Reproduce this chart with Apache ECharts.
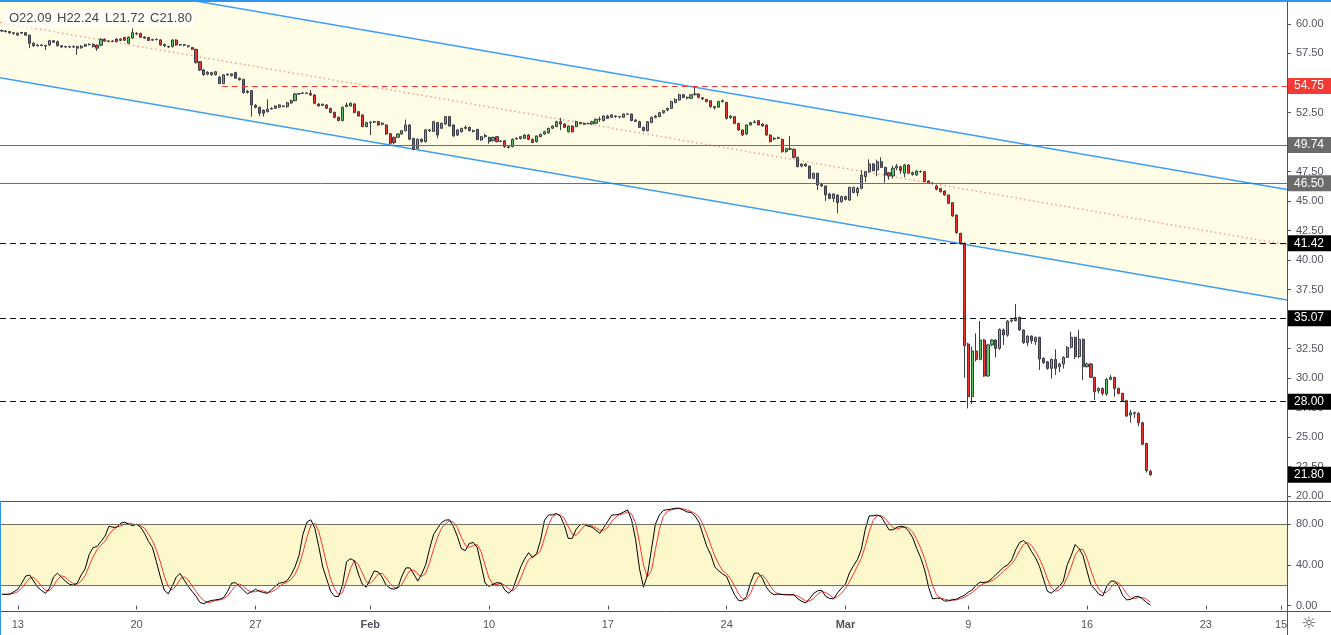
<!DOCTYPE html>
<html><head><meta charset="utf-8">
<script src="https://cdn.jsdelivr.net/npm/echarts@6/dist/echarts.min.js"></script>
<style>html,body{margin:0;padding:0;background:#fff}#c{width:1331px;height:635px}</style>
</head><body><div id="c"></div>
<script>
// ---- DATA ----
// 4h candles, one per slot: [open, close, low, high]
const candles = [
[59.45,59.40,59.32,59.52],[59.40,59.36,59.28,59.48],[59.36,59.25,59.18,59.40],[59.25,59.20,59.10,59.32],[59.05,59.22,59.00,59.28],
[59.22,59.28,59.15,59.33],[59.26,59.05,59.00,59.30],[59.05,58.36,57.95,59.10],[58.36,58.15,58.05,58.45],[58.15,58.22,58.10,58.30],
[58.22,58.18,58.10,58.30],[58.18,58.12,57.80,58.25],[58.22,58.58,58.15,58.65],[58.58,58.45,58.40,58.62],[58.50,58.15,58.10,58.60],
[58.15,58.05,58.00,58.20],[58.05,58.08,57.98,58.15],[58.08,58.05,57.95,58.15],[58.05,58.08,57.98,58.18],[58.08,57.95,57.37,58.15],
[57.98,58.12,57.90,58.20],[58.12,58.25,58.05,58.32],[58.25,58.28,58.18,58.35],[58.28,58.08,58.00,58.35],[58.20,57.95,57.72,58.25],
[58.20,58.70,58.10,58.80],[58.70,58.55,58.50,58.78],[58.55,58.52,58.45,58.62],[58.52,58.55,58.45,58.62],[58.72,58.52,58.45,58.78],
[58.60,58.72,58.55,58.80],[58.85,58.62,58.55,58.92],[58.36,58.88,58.30,58.95],[58.80,59.26,58.75,59.63],[59.20,59.15,59.05,59.30],
[59.20,58.88,58.80,59.25],[58.90,58.80,58.72,58.95],[58.85,58.60,58.55,58.90],[58.62,58.68,58.58,58.75],[58.68,58.70,58.60,58.75],
[58.65,58.22,58.15,58.70],[58.25,58.15,58.05,58.36],[58.10,58.05,57.95,58.15],[58.08,58.64,58.00,58.70],[58.64,58.22,58.15,58.70],
[58.22,58.25,58.15,58.30],[58.25,58.20,58.10,58.30],[58.15,58.08,58.00,58.20],[58.00,57.85,57.80,58.05],[57.85,56.72,56.65,57.90],
[56.80,56.10,56.00,56.85],[56.10,55.70,55.60,56.20],[55.75,55.90,55.65,56.00],
[55.70,55.88,55.60,55.95],[55.70,55.95,55.65,56.00],[55.48,54.95,54.90,55.60],[54.95,55.68,54.90,55.75],[55.68,55.74,55.60,55.80],
[55.62,55.77,55.55,55.82],[55.88,55.40,55.35,55.95],[55.40,55.28,55.20,55.45],[55.31,54.18,54.10,55.35],[54.20,54.30,54.10,54.40],
[54.35,53.14,52.15,54.40],[53.11,52.94,52.85,53.20],[52.94,52.43,52.20,53.00],[52.70,52.43,52.15,52.75],[52.57,52.77,52.50,53.62],
[52.80,52.85,52.75,52.95],[52.85,53.05,52.80,53.10],[52.95,53.14,52.90,53.20],[53.05,53.00,52.95,53.10],[53.00,53.33,52.90,53.40],
[53.30,53.50,53.25,53.60],[53.50,54.07,53.45,54.15],[54.07,54.10,54.00,54.15],[54.13,54.15,54.05,54.20],[54.15,54.12,54.05,54.20],
[54.12,53.98,53.90,54.41],[53.98,53.28,53.20,54.05],[53.22,53.05,53.00,53.30],[53.10,53.20,53.05,53.25],[53.14,52.85,52.80,53.20],
[52.85,52.49,52.45,52.90],[52.52,52.09,52.00,52.55],[52.09,51.81,51.75,52.15],[51.81,52.94,51.75,53.00],[53.00,53.14,52.95,53.35],
[53.05,53.28,53.00,53.35],[53.22,52.49,52.45,53.30],[52.57,52.20,52.15,52.60],[52.29,51.30,51.25,52.35],[51.30,51.64,51.25,51.70],
[51.64,51.68,50.59,51.75],[51.68,51.72,51.60,51.80],[51.72,51.44,51.40,51.80],[51.50,51.60,51.40,51.65],[51.44,50.68,50.60,51.50],
[50.70,49.89,49.80,50.75],[50.40,49.94,49.80,50.45],[50.40,50.68,50.35,50.75],[50.68,50.96,50.60,51.00],[50.96,51.44,50.90,51.90],
[51.44,50.23,50.15,51.50],[50.30,49.38,49.30,50.35],[49.46,50.23,49.40,50.30],[50.23,50.03,49.95,50.30],[50.03,51.02,49.95,51.10],
[51.02,50.95,50.85,51.10],[50.90,51.72,50.85,51.80],[51.64,50.59,50.31,51.70],[51.16,51.58,51.10,51.65],[51.52,52.15,51.45,52.20],
[52.15,51.35,51.30,52.20],[51.44,50.51,50.45,51.50],[50.59,51.02,50.50,51.10],[50.87,51.16,50.80,51.20],[51.16,51.24,51.05,51.40],
[51.24,50.96,50.90,51.30],[50.96,50.90,50.80,51.05],[51.07,50.22,50.15,51.10],[50.17,50.45,50.10,50.50],[50.45,50.55,50.35,50.70],
[50.39,50.03,49.85,50.45],[50.11,50.39,50.05,50.45],[50.45,50.03,49.95,50.50],[50.08,50.05,49.98,50.15],[50.11,49.60,49.50,50.15],
[49.60,49.55,49.45,49.70],[49.60,50.22,49.55,50.30],[50.25,50.31,50.20,50.40],[50.30,50.45,50.20,50.50],[50.31,50.59,50.25,50.65],
[50.59,50.22,50.15,50.65],[50.22,49.95,49.90,50.30],[50.03,50.51,49.95,50.55],[50.45,50.65,50.40,50.70],[50.68,50.87,50.60,50.95],
[50.77,51.16,50.70,51.20],[51.16,51.35,51.10,51.40],[51.30,51.72,51.25,51.80],[51.72,51.52,51.00,52.05],[51.52,51.24,51.20,51.60],
[50.87,51.35,50.80,51.40],[51.35,50.87,50.80,51.40],[51.30,51.72,51.25,51.80],[51.64,51.55,51.50,51.70],[51.58,51.50,51.45,51.65],
[51.55,51.58,51.50,51.65],[51.52,51.72,51.45,51.80],[51.58,51.92,51.55,51.98],[51.92,51.90,51.70,52.15],[51.81,52.20,51.75,52.25],
[52.20,52.00,51.95,52.30],[52.09,52.29,52.05,52.35],[52.20,52.15,52.05,52.25],[52.15,52.12,52.00,52.20],[52.09,52.37,52.05,52.40],
[52.37,52.35,52.30,52.40],[52.37,51.81,51.75,52.40],[51.87,51.75,51.70,51.90],
[51.72,51.24,51.20,51.80],[51.24,50.96,50.90,51.30],[50.96,51.72,50.90,51.78],[51.64,52.09,51.60,52.15],[52.09,52.20,52.00,52.30],
[52.15,52.48,52.10,52.55],[52.48,52.65,52.40,52.70],[52.71,52.85,52.60,52.90],[52.85,53.42,52.80,53.50],[53.33,53.61,53.30,53.70],
[53.56,54.00,53.50,54.10],[54.00,53.78,53.70,54.05],[53.78,53.72,53.60,53.85],[53.70,54.00,53.65,54.05],[54.00,54.07,53.95,54.69],
[54.07,53.78,53.70,54.10],[53.75,53.65,53.55,53.80],[53.61,53.42,53.35,53.65],[53.50,52.99,52.90,53.55],[52.99,52.90,52.75,53.05],
[52.95,53.42,52.90,53.50],[53.42,53.50,53.35,53.60],[53.36,52.00,51.90,53.40],[52.05,52.20,51.95,52.25],[52.15,51.58,51.50,52.20],
[51.58,51.02,50.95,51.60],[51.02,50.59,50.50,51.05],[50.68,51.44,50.60,51.50],[51.44,51.64,51.40,51.70],[51.64,51.70,51.60,51.85],
[51.81,51.44,51.40,51.85],[51.52,51.35,51.30,51.60],[51.44,50.59,50.50,51.50],[50.59,50.03,49.95,50.65],[50.25,50.31,50.15,50.40],
[50.31,50.37,50.25,50.45],[50.22,49.18,49.10,50.30],[49.18,49.43,49.10,49.50],[49.43,49.38,49.30,50.51],[49.38,48.70,48.60,49.45],
[48.70,47.91,47.85,48.75],[47.96,48.13,47.85,48.20],[48.13,47.96,47.90,48.20],[47.96,46.92,46.85,48.00],[46.92,47.34,46.85,47.40],
[47.34,46.35,45.93,47.40],[46.40,46.27,46.20,46.55],[46.27,45.51,45.00,46.30],[45.59,45.22,45.15,45.70],[45.22,45.59,44.90,45.65],
[45.51,44.86,43.95,45.55],[44.94,45.37,44.85,45.45],[45.37,45.14,45.05,45.45],[45.08,46.16,45.00,46.20],
[45.71,46.16,45.65,46.20],[45.71,46.07,45.40,46.20],[46.07,47.20,46.00,47.60],[47.06,47.49,46.60,47.55],[47.49,48.14,47.40,48.53],
[48.14,47.57,47.50,48.20],[47.63,48.33,47.10,48.50],[48.33,47.85,47.80,48.70],[47.85,47.20,46.55,47.90],[47.40,47.12,46.80,47.45],
[47.12,47.77,46.90,48.00],[47.80,47.95,47.60,48.15],[47.90,47.57,47.30,48.00],[47.35,48.05,47.00,48.15],[48.05,47.35,47.30,48.10],
[47.40,47.25,47.15,47.50],[47.20,47.54,47.15,47.60],[47.50,47.47,47.40,47.60],[47.49,46.64,46.60,47.55],[46.70,46.50,46.45,46.75],
[46.50,46.48,46.40,46.60],[46.27,45.99,45.90,46.35],[46.07,45.79,45.70,46.10],[45.85,45.51,45.45,45.90],[45.51,44.80,44.75,45.55],
[44.86,43.73,43.65,44.90],[43.81,42.32,42.20,43.85],[42.26,41.41,41.30,42.30],
[41.41,32.74,30.03,41.50],[32.88,28.42,27.43,33.00],[28.42,32.29,27.80,32.66],[32.29,31.58,31.40,33.79],[31.58,33.22,31.50,34.83],
[33.22,30.17,30.10,33.30],[30.17,32.80,30.10,32.90],[32.80,33.22,32.70,33.30],[33.22,32.51,31.75,33.30],[32.51,34.12,32.40,34.20],
[34.07,33.64,32.80,34.20],[33.64,34.83,33.50,34.90],[34.83,34.90,34.70,35.10],[34.86,35.11,34.80,36.27],[35.14,34.07,34.00,35.20],
[34.07,32.99,32.90,34.10],[32.99,33.56,32.70,33.60],[33.56,33.16,32.90,33.60],[33.08,33.45,32.80,33.50],[33.45,31.61,30.68,33.50],
[31.67,31.30,31.20,31.75],[31.38,30.82,30.70,31.45],[30.82,31.58,29.95,31.65],[31.58,30.82,30.25,32.43],[30.96,31.19,30.50,31.30],
[31.19,31.75,30.80,31.85],[31.75,32.60,31.70,32.70],[32.60,33.45,32.50,33.93],[33.45,31.81,31.60,33.50],[31.81,33.28,31.70,34.07],
[33.28,30.96,29.83,33.35],[30.96,31.19,30.90,31.30],[31.19,30.06,30.00,31.25],[30.06,28.84,28.14,30.10],[28.92,29.12,28.70,29.20],
[29.12,28.70,28.50,29.20],[28.64,29.89,28.50,30.00],[29.89,30.06,29.80,30.25],[30.06,29.12,28.42,30.10],[29.12,28.70,28.60,29.20],
[28.70,28.08,28.00,28.75],[28.08,26.78,26.70,28.15],[26.86,27.06,26.21,27.30],[27.06,27.00,26.60,27.15],[27.00,26.21,25.90,27.10],
[26.21,24.38,24.30,26.30],[24.46,22.15,22.00,24.50],[22.09,21.80,21.72,22.24]
];
// Stochastic %K (black) and %D (red), one value per candle
const stochK = [
11,11,11.2,13.5,16,22,29,30,24,18, 14.7,12,17,28,31.8,28,24,21,20,22,
30,36,50,57,58,63,68,78,77,77, 81,82,80,78.5,80,77,71,63,57,43,
28,15,11.5,19,28,31.5,25,19,14,9, 3,1.8,4,5,5.6,6.2,8,14,22,22.5,
19,15,11.5,13.5,16,14,12.8,12,15,19, 22,22.6,24.5,30,38,49,70,82,84.3,76,
58,38,26,14,9,8.8,20,43,46,44, 31,21,18,26,34,33,28,20,17,16,
18,29,37,37,31,24,31,40,56,70, 76,81.6,84,84.3,77.7,68,56,54,61,62,
57,40,22,18.7,21,22.5,22,15,12,16, 27,38,46,52,47,51,64,84,89,89.2,
90.5,88,79,66,66,75,79.5,80,78,77, 74,71,77,83,89,89.2,90,92,94,84,
65,36,18,30,55,80,89,93.5,94.3,94.8, 95.7,95.7,94,92,91.5,88,82,70,58,50,
38,34,31,28.5,19,10.5,5,4.5,8.8,22, 31.8,31.8,27,18,13,10.5,11.3,10.8,10.5,10.5,
10.5,6.5,4,2.5,7,12,14.5,15,9,7, 6.5,12.5,17,21,32,39,45,55,75,88.2,
88.2,89,87.5,81,74.4,74.4,77,78,77,73, 66.5,56,47,35,18,6.5,7.2,7.2,4.5,4.5,
5.8,6.2,8.2,10,13,15.4,20,23,22.5,23.6, 26.5,30.5,34,38,40,45,55,62,64,60,
53,47,38.4,26,14,12.1,15.5,19,24,40, 49,60,56,49,34,20,16,11,9.5,19,
24,24,19,10,5.5,6,8.5,9,6.5,3, 0.6
];
const stochD = [
11,11,11.1,11.9,13.6,17.2,22.3,27,27.7,24, 18.9,14.9,14.6,19,25.6,29.3,27.9,24.3,21.7,21,
24,29.3,38.7,47.7,55,59.3,63,69.7,74.3,77.3, 78.3,80,81,80.2,79.5,78.5,76,70.3,63.7,54.3,
42.7,28.7,18.2,15.2,19.5,26.2,28.2,25.2,19.3,14, 8.7,4.6,2.9,3.6,4.9,5.6,6.6,9.4,14.7,19.5,
21.2,18.8,15.2,13.3,13.7,14.5,14.3,12.9,13.3,15.3, 18.7,21.2,23,25.7,30.8,39,52.3,67,78.8,80.8,
72.8,57.3,40.7,26,16.3,10.6,12.6,23.9,36.3,44.3, 40.3,32,23.3,21.7,26,31,31.7,27,21.7,17.7,
17,21,28,34.3,35,30.7,28.7,31.7,42.3,55.3, 67.3,75.9,80.5,83.3,82,76.7,67.2,59.3,57,59,
60,53,39.7,26.9,20.6,20.7,21.8,19.8,16.3,14.3, 18.3,27,37,45.3,48.3,50,54,66.3,79,87.4,
89.6,89.2,85.8,77.7,70.3,69,73.5,78.2,79.2,78.3, 76.3,74,74,77,83,87.1,89.4,90.4,92,90,
81,61.7,39.7,28,34.3,55,74.7,87.5,92.3,94.2, 94.9,95.4,95.1,93.9,92.5,90.5,87.2,80,70,59.3,
48.7,40.7,34.3,31.2,26.2,19.3,11.5,6.7,6.1,11.8, 20.9,28.5,30.2,25.6,19.3,13.8,11.6,10.9,10.9,10.6,
10.5,9.2,7,4.3,4.5,7.2,11.2,13.8,12.8,10.3, 7.5,8.7,12,16.8,23.3,30.7,38.7,46.3,58.3,72.7,
83.8,88.5,88.2,85.8,81,76.6,75.3,76.5,77.3,76, 72.2,65.2,56.5,46,33.3,19.8,10.6,7,6.3,5.4,
4.9,5.5,6.7,8.1,10.4,12.8,16.1,19.5,21.8,23, 24.2,26.9,30.3,34.2,37.3,41,46.7,54,60.3,62,
59,53.3,46.1,37.1,26.1,17.4,13.9,15.5,19.5,27.7, 37.7,49.7,55,55,46.3,34.3,23.3,15.7,12.2,13.2,
17.5,22.3,22.3,17.7,11.5,7.2,6.7,7.8,8,6.2, 3.4
];
const tickSlots  = [4, 34, 64, 93, 123, 153, 183, 213, 244, 274, 304, 323];
const tickLabels = ['13','20','27','Feb','10','17','24','Mar','9','16','23','15'];
const priceTicks = [20,22.5,25,27.5,30,32.5,35,37.5,40,42.5,45,47.5,50,52.5,55,57.5,60];
const stochTicks = [0,40,80];
const stochBand  = [20,80];
// regression channel: [slot, price] end points
const channelUpper = [[-0.5,64.81],[324.5,45.97]];
const channelMid   = [[-0.5,60.13],[324.5,41.29]];
const channelLower = [[-0.5,55.45],[324.5,36.61]];
// horizontal levels
const levelValues = [54.75, 49.74, 46.50, 41.42, 35.07, 28.00];

// ---- LAYOUT / STYLE ----
const SLOTS = 325;
const FONT = 'Liberation Sans, Arial, sans-serif';
const AXIS_TXT = '#50535e';
const levelStyles = [
  {line:'#f23a35', type:[6,4], tag:'#f33a35', fromSlot:55.5},
  {line:'#6e6e6e', type:'solid', tag:'#6b6b6b'},
  {line:'#6e6e6e', type:'solid', tag:'#6b6b6b'},
  {line:'#111', type:[6,4], tag:'#000'},
  {line:'#111', type:[6,4], tag:'#000'},
  {line:'#111', type:[6,4], tag:'#000'}
];
const tagLabel = (txt, bg) => ({show:true, position:'end', distance:1, formatter:txt, color:'#fff',
  backgroundColor:bg, padding:[2,6,2,6], width:31, lineHeight:12, fontSize:12, fontFamily:FONT});

const last = candles[candles.length-1];
const markData = levelValues.map((v,i)=>{
  const s = levelStyles[i];
  const ls = {color:s.line, type:s.type, width:1};
  const lb = tagLabel(v.toFixed(2), s.tag);
  if (s.fromSlot != null) return [{coord:[s.fromSlot, v], lineStyle:ls, label:lb}, {coord:[SLOTS-0.5, v]}];
  return {yAxis:v, lineStyle:ls, label:lb};
});
markData.push({yAxis:last[1], lineStyle:{color:'transparent', width:0}, label:tagLabel(last[1].toFixed(2), '#000')});

const cats = Array.from({length:SLOTS}, (_,i)=>String(i));
const labelMap = {};
tickSlots.forEach((s,i)=>{ labelMap[s] = tickLabels[i]; });
const showTick = (idx) => labelMap[idx] !== undefined;

const chart = echarts.init(document.getElementById('c'), null, {renderer:'canvas'});
const yAxisCommon = {
  type:'value', position:'right', splitLine:{show:false},
  axisLine:{show:true, onZero:false, lineStyle:{color:AXIS_TXT, width:1}}
};
const option = {
  animation:false,
  backgroundColor:'#ffffff',
  textStyle:{fontFamily:FONT},
  grid:[
    {left:0, right:44, top:0, height:501},
    {left:0, right:44, top:501, height:110}
  ],
  xAxis:[
    {type:'category', gridIndex:0, data:cats, show:false},
    {type:'value', gridIndex:0, min:-0.5, max:SLOTS-0.5, show:false},
    {type:'category', gridIndex:1, data:cats,
      axisLine:{show:false},
      axisTick:{show:true, alignWithLabel:true, interval:showTick, length:4, lineStyle:{color:AXIS_TXT}},
      axisLabel:{interval:showTick, margin:8, color:AXIS_TXT, fontSize:11, fontFamily:FONT,
        formatter:(v, idx)=>{ const t = labelMap[idx] || ''; return /^[A-Z]/.test(t) ? '{b|'+t+'}' : t; },
        rich:{b:{fontWeight:'bold', color:AXIS_TXT, fontSize:11, fontFamily:FONT}}},
      splitLine:{show:false}}
  ],
  yAxis:[
    Object.assign({}, yAxisCommon, {gridIndex:0, min:19.58, max:62.03,
      axisTick:{show:true, inside:false, length:4, customValues:priceTicks, lineStyle:{color:AXIS_TXT}},
      axisLabel:{customValues:priceTicks, formatter:v=>v.toFixed(2), margin:9, color:AXIS_TXT, fontSize:11, fontFamily:FONT}}),
    Object.assign({}, yAxisCommon, {gridIndex:1, min:-5.4, max:102.8,
      axisTick:{show:true, inside:false, length:4, customValues:stochTicks, lineStyle:{color:AXIS_TXT}},
      axisLabel:{customValues:stochTicks, formatter:v=>v.toFixed(2), margin:9, color:AXIS_TXT, fontSize:11, fontFamily:FONT}})
  ],
  series:[
    {type:'custom', xAxisIndex:1, yAxisIndex:0, z:1, silent:true, clip:true, data:[[0]],
      renderItem:(p, api)=>{
        const pts = [channelUpper[0], channelUpper[1], channelLower[1], channelLower[0]].map(q=>api.coord(q));
        return {type:'polygon', shape:{points:pts}, style:{fill:'#fffde6'}};
      }},
    {type:'line', xAxisIndex:1, yAxisIndex:0, z:3, silent:true, symbol:'none', data:channelUpper,
      lineStyle:{color:'#3d9ef2', width:1.5},
      markLine:{symbol:['none','none'], silent:true, animation:false, data:markData}},
    {type:'line', xAxisIndex:1, yAxisIndex:0, z:3, silent:true, symbol:'none', data:channelLower,
      lineStyle:{color:'#3d9ef2', width:1.5}},
    {type:'line', xAxisIndex:1, yAxisIndex:0, z:2, silent:true, symbol:'none', data:channelMid,
      lineStyle:{color:'#f39a94', width:1.5, type:[1.5,3]}},
    {type:'candlestick', xAxisIndex:0, yAxisIndex:0, z:4, barWidth:2.6, data:candles,
      itemStyle:{color:'#5cc45c', color0:'#e8352f', borderColor:'#3b3e48', borderColor0:'#3b3e48', borderWidth:1}},
    {type:'line', xAxisIndex:2, yAxisIndex:1, z:3, symbol:'none', data:stochD,
      lineStyle:{color:'#f2382b', width:1},
      markArea:{silent:true, itemStyle:{color:'#fcf8cc'}, data:[[{yAxis:stochBand[0]},{yAxis:stochBand[1]}]]},
      markLine:{symbol:['none','none'], silent:true, label:{show:false},
        lineStyle:{color:'#6f6f62', type:'solid', width:1},
        data:[{yAxis:stochBand[0]},{yAxis:stochBand[1]}]}},
    {type:'line', xAxisIndex:2, yAxisIndex:1, z:4, symbol:'none', data:stochK,
      lineStyle:{color:'#000', width:1}}
  ],
  graphic:[
    {type:'rect', z:100, shape:{x:3, y:9, width:192, height:19}, style:{fill:'rgba(255,255,255,0.6)'}},
    {type:'text', z:101, x:9, y:18, style:{text:'O'+last[0].toFixed(2), fill:'#434651', font:'13px '+FONT, verticalAlign:'middle'}},
    {type:'text', z:101, x:57, y:18, style:{text:'H'+last[3].toFixed(2), fill:'#434651', font:'13px '+FONT, verticalAlign:'middle'}},
    {type:'text', z:101, x:105, y:18, style:{text:'L'+last[2].toFixed(2), fill:'#434651', font:'13px '+FONT, verticalAlign:'middle'}},
    {type:'text', z:101, x:150, y:18, style:{text:'C'+last[1].toFixed(2), fill:'#434651', font:'13px '+FONT, verticalAlign:'middle'}},
    {type:'line', z:100, shape:{x1:0, y1:501.5, x2:1331, y2:501.5}, style:{stroke:'#50535e', lineWidth:1}},
    {type:'line', z:100, shape:{x1:0, y1:611.5, x2:1331, y2:611.5}, style:{stroke:'#50535e', lineWidth:1}},
    {type:'line', z:100, shape:{x1:1287.5, y1:0, x2:1287.5, y2:635}, style:{stroke:'#50535e', lineWidth:1}},
    {type:'line', z:102, shape:{x1:0, y1:1, x2:1331, y2:1}, style:{stroke:'#2f96f0', lineWidth:2}},
    {type:'line', z:102, shape:{x1:0.5, y1:501, x2:0.5, y2:635}, style:{stroke:'#2f96f0', lineWidth:1}},
    {type:'text', z:101, x:1309, y:625, style:{text:'\u263C', fill:'#50535e', font:'17px DejaVu Sans', align:'center', verticalAlign:'middle'}}
  ]
};
chart.setOption(option);
</script>
</body></html>
